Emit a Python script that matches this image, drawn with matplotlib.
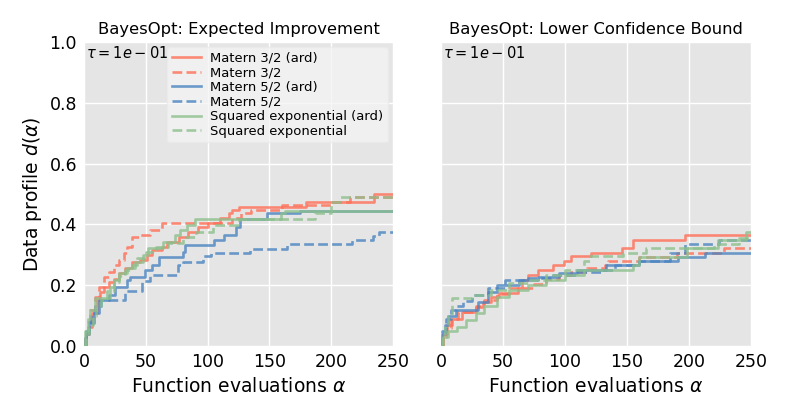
import matplotlib
matplotlib.use("Agg")
import matplotlib.pyplot as plt

titles = ["BayesOpt: Expected Improvement", "BayesOpt: Lower Confidence Bound"]
labels = ["Matern 3/2 (ard)", "Matern 3/2", "Matern 5/2 (ard)", "Matern 5/2",
          "Squared exponential (ard)", "Squared exponential"]
colors = ["#ff6f56", "#ff6f56", "#4a84c0", "#4a84c0", "#8cc08c", "#8cc08c"]
styles = ["-", "--", "-", "--", "-", "--"]
tau_text = r"$\tau = 1e-01$"
x_max = 250

# ---- Left panel: Expected Improvement ----
ei_m32_ard_x = [0, 2, 4, 6.5, 10.5, 13, 16, 20, 24, 28, 33, 39, 45, 51, 55, 63, 67, 77, 84, 92, 100, 110, 117, 120, 125, 180, 235]
ei_m32_ard_y = [0, 0.04, 0.064, 0.107, 0.151, 0.178, 0.195, 0.211, 0.222, 0.239, 0.255, 0.277, 0.283, 0.299, 0.316, 0.327, 0.343, 0.36, 0.375, 0.39, 0.405, 0.42, 0.436, 0.447, 0.458, 0.475, 0.50]

ei_m32_x = [0, 1, 3, 5, 9, 12, 16, 20, 24, 28, 32, 35, 39, 45, 53, 63, 120, 127, 135, 160, 200, 215]
ei_m32_y = [0, 0.04, 0.08, 0.118, 0.162, 0.195, 0.228, 0.244, 0.266, 0.283, 0.305, 0.327, 0.359, 0.365, 0.382, 0.405, 0.42, 0.436, 0.447, 0.464, 0.475, 0.489]

ei_m52_ard_x = [0, 2, 4, 8, 12, 20, 25, 34.5, 37, 49, 55, 61, 80, 82, 105, 113, 123, 126, 148, 175]
ei_m52_ard_y = [0, 0.04, 0.075, 0.107, 0.151, 0.167, 0.195, 0.217, 0.228, 0.25, 0.266, 0.292, 0.31, 0.332, 0.349, 0.365, 0.393, 0.417, 0.436, 0.445]

ei_m52_x = [0, 1, 2, 4, 6, 9, 14, 33, 47, 53, 76, 80, 96, 103, 134, 164, 217, 234, 239]
ei_m52_y = [0, 0.03, 0.05, 0.08, 0.11, 0.13, 0.151, 0.18, 0.215, 0.234, 0.266, 0.277, 0.296, 0.307, 0.319, 0.336, 0.348, 0.362, 0.376]

ei_se_ard_x = [0, 1, 3, 5, 9, 21, 24, 28, 34.5, 41, 48, 52, 64, 74, 78, 83, 90, 159, 163]
ei_se_ard_y = [0, 0.05, 0.09, 0.12, 0.157, 0.195, 0.217, 0.239, 0.255, 0.277, 0.299, 0.321, 0.343, 0.365, 0.382, 0.398, 0.417, 0.436, 0.445]

ei_se_x = [0, 2, 4, 7, 10, 14, 19, 24, 28, 33, 39, 43, 50, 58, 68, 80, 91, 104, 125, 187, 200, 207]
ei_se_y = [0, 0.04, 0.07, 0.1, 0.13, 0.15, 0.18, 0.21, 0.23, 0.25, 0.266, 0.29, 0.31, 0.325, 0.338, 0.36, 0.376, 0.398, 0.417, 0.436, 0.475, 0.489]

# ---- Right panel: Lower Confidence Bound ----
lcb_m32_ard_x = [0, 2, 5, 9, 17, 28, 34, 40, 47, 62, 65, 70, 78, 90, 99, 105, 121, 146, 155, 197]
lcb_m32_ard_y = [0, 0.04, 0.07, 0.09, 0.113, 0.129, 0.145, 0.16, 0.173, 0.19, 0.217, 0.234, 0.25, 0.266, 0.28, 0.295, 0.307, 0.321, 0.349, 0.365]

lcb_m32_x = [0, 2, 4, 8, 14, 28, 35, 45, 55, 75, 85, 95, 105, 118, 132, 135, 160, 190, 228]
lcb_m32_y = [0, 0.03, 0.06, 0.09, 0.113, 0.13, 0.15, 0.17, 0.19, 0.205, 0.22, 0.235, 0.245, 0.255, 0.266, 0.278, 0.292, 0.307, 0.321]

lcb_m52_ard_x = [0, 1, 3, 6, 12, 30, 38, 45, 63, 78, 95, 110, 133, 160, 191, 213]
lcb_m52_ard_y = [0, 0.04, 0.07, 0.1, 0.119, 0.145, 0.178, 0.2, 0.217, 0.228, 0.239, 0.25, 0.266, 0.278, 0.292, 0.307]

lcb_m52_x = [0, 1, 4, 8, 12, 18, 25, 38, 52, 70, 90, 110, 130, 140, 160, 185, 197, 224]
lcb_m52_y = [0, 0.05, 0.09, 0.12, 0.13, 0.147, 0.168, 0.19, 0.217, 0.225, 0.235, 0.245, 0.25, 0.266, 0.28, 0.307, 0.335, 0.349]

lcb_se_ard_x = [0, 2, 6, 13, 20, 28, 35, 45, 55, 70, 85, 100, 115, 155, 160, 198, 223, 246]
lcb_se_ard_y = [0, 0.03, 0.05, 0.062, 0.084, 0.107, 0.13, 0.16, 0.185, 0.2, 0.217, 0.234, 0.25, 0.266, 0.292, 0.321, 0.349, 0.376]

lcb_se_x = [0, 1, 3, 6, 9, 25, 40, 55, 70, 85, 100, 115, 120, 147, 165, 220, 240]
lcb_se_y = [0, 0.04, 0.07, 0.1, 0.157, 0.168, 0.184, 0.206, 0.217, 0.235, 0.25, 0.28, 0.295, 0.307, 0.321, 0.337, 0.354]

panels = [
    [(ei_m32_ard_x, ei_m32_ard_y), (ei_m32_x, ei_m32_y), (ei_m52_ard_x, ei_m52_ard_y),
     (ei_m52_x, ei_m52_y), (ei_se_ard_x, ei_se_ard_y), (ei_se_x, ei_se_y)],
    [(lcb_m32_ard_x, lcb_m32_ard_y), (lcb_m32_x, lcb_m32_y), (lcb_m52_ard_x, lcb_m52_ard_y),
     (lcb_m52_x, lcb_m52_y), (lcb_se_ard_x, lcb_se_ard_y), (lcb_se_x, lcb_se_y)],
]

plt.rcParams['font.family'] = ['DejaVu Sans']
fig = plt.figure(figsize=(7.89, 4.15), dpi=100)
ax1 = fig.add_axes([84/789, 1-346/415, (393-84)/789, (346-42)/415])
ax2 = fig.add_axes([441/789, 1-346/415, (751-441)/789, (346-42)/415], sharey=ax1)

for ax, title, series in zip([ax1, ax2], titles, panels):
    ax.set_facecolor('#e5e5e5')
    for s in ax.spines.values():
        s.set_visible(False)
    ax.grid(True, color='white', linewidth=1.0)
    ax.set_axisbelow(True)
    for (xs, ys), lab, c, ls in zip(series, labels, colors, styles):
        ax.step(list(xs) + [x_max], list(ys) + [ys[-1]], where='post',
                color=c, linestyle=ls, linewidth=1.9, alpha=0.8, label=lab)
    ax.set_xlim(0, x_max)
    ax.set_ylim(0, 1.0)
    ax.set_xticks([0, 50, 100, 150, 200, 250])
    ax.set_yticks([0, 0.2, 0.4, 0.6, 0.8, 1.0])
    ax.tick_params(length=0, labelsize=12.5, pad=5)
    ax.set_title(title, fontsize=11.8, pad=6)
    ax.set_xlabel(r"Function evaluations $\alpha$", fontsize=13.5)
    ax.text(0.005, 0.99, tau_text, transform=ax.transAxes, va='top', ha='left', fontsize=10.5)

ax1.set_ylabel(r"Data profile $d(\alpha)$", fontsize=13.5)
plt.setp(ax2.get_yticklabels(), visible=False)
leg = ax1.legend(loc='upper right', fontsize=9.45, frameon=True, handlelength=2.2,
                 labelspacing=0.12, borderpad=0.35, handletextpad=0.7,
                 borderaxespad=0.4)
leg.get_frame().set_facecolor('#f4f4f4')
leg.get_frame().set_edgecolor('#eaeaea')

fig.savefig("out.png", dpi=100)
